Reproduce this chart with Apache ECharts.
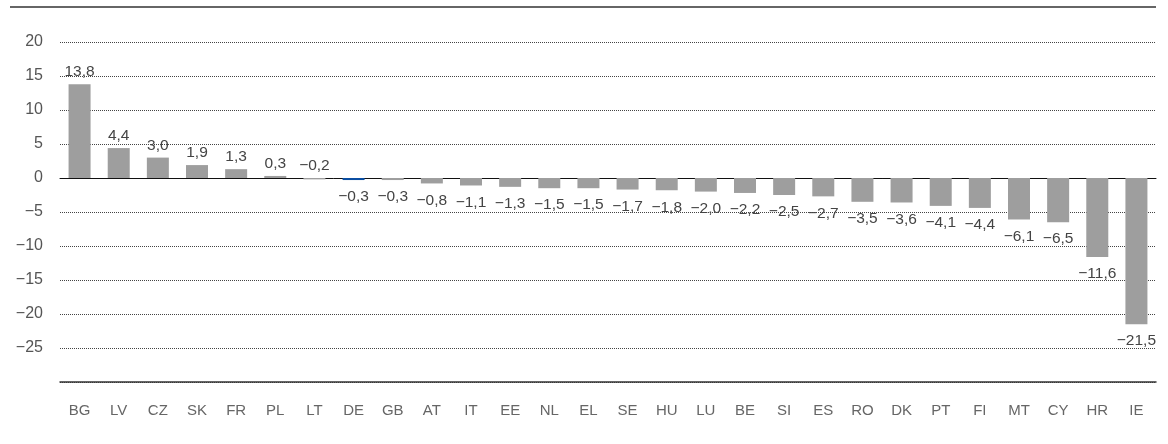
<!DOCTYPE html>
<html><head><meta charset="utf-8">
<script src="https://cdn.jsdelivr.net/npm/echarts@6/dist/echarts.min.js"></script>
<style>html,body{margin:0;padding:0;background:#fff}#c{width:1168px;height:444px}</style>
</head><body><div id="c"></div>
<script>
const categories = ['BG','LV','CZ','SK','FR','PL','LT','DE','GB','AT','IT','EE','NL','EL','SE','HU','LU','BE','SI','ES','RO','DK','PT','FI','MT','CY','HR','IE'];
const values = [13.8,4.4,3.0,1.9,1.3,0.3,-0.2,-0.3,-0.3,-0.8,-1.1,-1.3,-1.5,-1.5,-1.7,-1.8,-2.0,-2.2,-2.5,-2.7,-3.5,-3.6,-4.1,-4.4,-6.1,-6.5,-11.6,-21.5];
const highlight = ['DE'];
const labelAbove = ['LT'];
const yTicks = [-30,-25,-20,-15,-10,-5,0,5,10,15,20];

const fmt = v => v.toFixed(1).replace('.', ',').replace('-', '\u2212');
const FONT = 'Liberation Sans';

const data = values.map((v, i) => {
  const c = categories[i];
  const up = v >= 0 || labelAbove.includes(c);
  return {
    value: v,
    itemStyle: { color: highlight.includes(c) ? '#0b4ea2' : '#9e9e9e' },
    label: { position: up ? 'top' : 'bottom', distance: up ? 4 : 9 }
  };
});

const chart = echarts.init(document.getElementById('c'));
chart.setOption({
  animation: false,
  grid: { left: 60, right: 12, top: 42, bottom: 62 },
  graphic: [{
    type: 'line', shape: { x1: 10, y1: 7, x2: 1156, y2: 7 },
    style: { stroke: '#333', lineWidth: 1.5 }
  }],
  xAxis: [{
    type: 'category', data: categories, position: 'bottom',
    axisLine: { onZero: false, lineStyle: { color: '#333', width: 1.5 } },
    axisTick: { show: false },
    axisLabel: { color: '#666', fontSize: 15, fontFamily: FONT, margin: 21, interval: 0 }
  }, {
    type: 'category', data: categories, position: 'bottom',
    axisLine: { onZero: true, lineStyle: { color: '#111', width: 1 } },
    axisTick: { show: false }, axisLabel: { show: false }, splitLine: { show: false }
  }],
  yAxis: {
    type: 'value', min: yTicks[0], max: yTicks[yTicks.length - 1], interval: 5,
    axisLine: { show: false }, axisTick: { show: false },
    axisLabel: {
      color: '#555', fontSize: 16, fontFamily: FONT, margin: 17,
      formatter: v => v === yTicks[0] ? '' : String(v).replace('-', '\u2212')
    },
    splitLine: { lineStyle: { color: '#444', type: [1, 1], width: 1 } }
  },
  series: [{
    type: 'bar', data: data, barWidth: 22, xAxisIndex: 0,
    label: {
      show: true, color: '#444', fontSize: 15.5, fontFamily: FONT,
      formatter: p => fmt(p.value)
    }
  }]
});
</script></body></html>
